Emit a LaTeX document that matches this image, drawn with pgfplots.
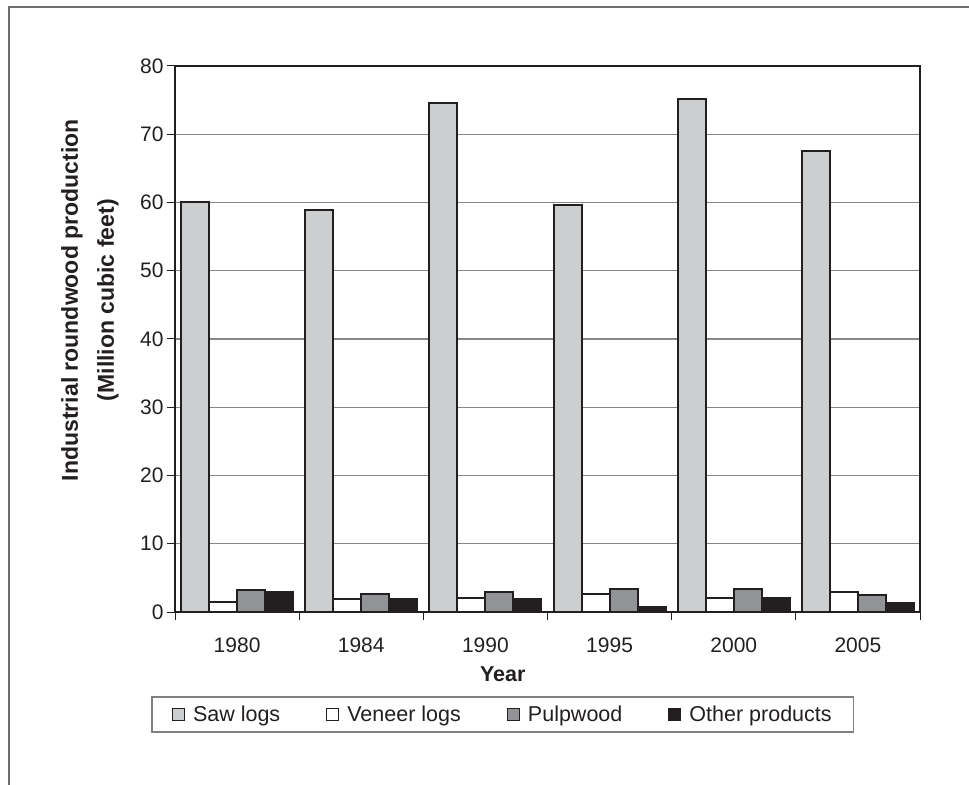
\documentclass[border=0pt]{standalone}
\usepackage{fontspec}
\setmainfont{Liberation Sans}
\usepackage{pgfplots}
\pgfplotsset{compat=1.18}
\definecolor{ink}{RGB}{35,31,32}
\definecolor{sawgray}{RGB}{205,206,207}
\definecolor{pulpgray}{RGB}{146,147,150}
\definecolor{gridgray}{RGB}{135,135,135}
\definecolor{framegray}{RGB}{110,110,110}

\begin{document}
\begin{tikzpicture}
\useasboundingbox (0bp,0bp) rectangle (969bp,785bp);
% frame of the figure (top and left only)
\draw[framegray, line width=1.6bp] (9bp,0bp) -- (9bp,778bp) -- (969bp,778bp);
\begin{axis}[
  at={(175bp,173bp)}, anchor=south west,
  scale only axis,
  width=745bp, height=546bp,
  ybar=0pt,
  bar width=28bp,
  xmin=-0.5, xmax=5.5,
  ymin=0, ymax=80,
  xtick={0,...,5},
  xticklabels={1980,1984,1990,1995,2000,2005},
  minor xtick={-0.5,0.5,...,5.5},
  ytick={0,10,...,80},
  major x tick style={draw=none},
  tick align=outside,
  xtick pos=bottom, ytick pos=left,
  major tick length=8bp, minor tick length=8bp,
  tick style={ink, line width=1bp},
  ymajorgrids,
  grid style={gridgray, line width=1.1bp},
  axis line style={ink, line width=1.6bp},
  /pgf/number format/assume math mode=true,
  ticklabel style={font=\fontsize{21bp}{25bp}\selectfont, text=ink},
  xticklabel style={yshift=-14bp},
  xlabel={Year},
  xlabel style={font=\bfseries\fontsize{21.5bp}{25bp}\selectfont, text=ink,
    at={(axis description cs:0.44,-0.1136)}, anchor=center},
  ylabel={Industrial roundwood production\\(Million cubic feet)},
  ylabel style={font=\bfseries\fontsize{23bp}{36bp}\selectfont, text=ink,
    align=center, at={(axis description cs:-0.1141,0.571)}, anchor=center},
  legend columns=4,
  legend style={at={(axis description cs:0.44,-0.1877)}, anchor=center,
    draw=gray, line width=1.2bp, font=\fontsize{21.5bp}{25bp}\selectfont,
    text=ink, inner xsep=20bp, inner ysep=7bp,
    /tikz/every odd column/.append style={column sep=6bp},
    /tikz/every even column/.append style={column sep=44bp}},
  every axis plot post/.append style={
    draw=ink, line width=2bp,
    legend image code/.code={\draw[##1, line width=1.1bp] (0bp,-6bp) rectangle (12bp,6bp);}},
  clip=false,
]
\addplot[fill=sawgray] coordinates
  {(0,60.1) (1,58.9) (2,74.6) (3,59.7) (4,75.1) (5,67.6)};
\addplot[fill=white] coordinates
  {(0,1.4) (1,1.9) (2,2.1) (3,2.7) (4,2.1) (5,2.9)};
\addplot[fill=pulpgray] coordinates
  {(0,3.2) (1,2.7) (2,2.9) (3,3.4) (4,3.4) (5,2.45)};
\addplot[fill=ink] coordinates
  {(0,2.9) (1,1.95) (2,1.95) (3,0.7) (4,2.0) (5,1.25)};
\legend{Saw logs, Veneer logs, Pulpwood, Other products}
\end{axis}
\end{tikzpicture}
\end{document}
